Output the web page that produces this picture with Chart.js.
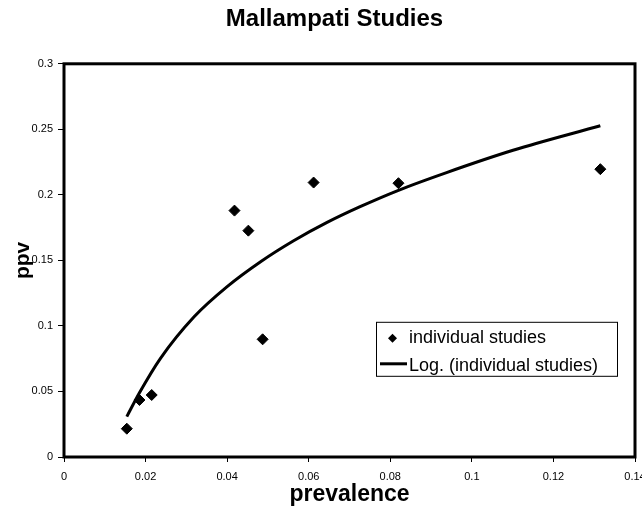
<!DOCTYPE html>
<html>
<head>
<meta charset="utf-8">
<script src="https://cdn.jsdelivr.net/npm/chart.js@4/dist/chart.umd.min.js"></script>
<style>
  html, body { margin: 0; padding: 0; background: #fff; }
  #wrap { width: 642px; height: 506px; }
</style>
</head>
<body>
<div id="wrap"><canvas id="chart" width="642" height="506"></canvas></div>
<script>
// Data
const studyPrevalence = [0.0154, 0.0185, 0.0215, 0.0418, 0.0452, 0.0487, 0.0612, 0.0820, 0.1315];
const studyPpv = [0.0216, 0.0435, 0.0473, 0.188, 0.1727, 0.0898, 0.2094, 0.2089, 0.2196];

// Logarithmic trendline
const trendPrevalence = [0.0154, 0.0185, 0.0237, 0.0319, 0.0400, 0.0482, 0.0563, 0.0645, 0.0726, 0.0820, 0.0938, 0.1101, 0.1315];
const trendPpv = [0.0308, 0.049, 0.0755, 0.107, 0.130, 0.149, 0.165, 0.179, 0.191, 0.2035, 0.217, 0.234, 0.2527];

const xTicks = [0, 0.02, 0.04, 0.06, 0.08, 0.1, 0.12, 0.14];
const yTicks = [0, 0.05, 0.1, 0.15, 0.2, 0.25, 0.3];

const seriesLabels = ['individual studies', 'Log. (individual studies)'];

const FONT = '"Liberation Sans", Arial, Helvetica, sans-serif';
Chart.defaults.font.family = FONT;
Chart.defaults.color = '#000';

// Frame round the plot area
const framePlugin = {
  id: 'frame',
  afterLayout(chart) {
    // title sits a bit right of the canvas centre in the reference
    if (chart.titleBlock) {
      chart.titleBlock.left = 27;
      chart.titleBlock.right = 642;
    }
  },
  afterDraw(chart) {
    const { ctx, chartArea: a } = chart;
    ctx.save();
    ctx.strokeStyle = '#000';
    ctx.lineWidth = 3;
    ctx.strokeRect(a.left, a.top, a.right - a.left, a.bottom - a.top);
    ctx.restore();
  }
};

// Boxed legend inside the plot, like the Excel one
const boxLegend = {
  id: 'boxLegend',
  afterDraw(chart) {
    const { ctx, chartArea: a } = chart;
    const left = a.left + 312, top = a.top + 258, w = 241, h = 54;
    ctx.save();
    ctx.fillStyle = '#fff';
    ctx.fillRect(left, top, w, h);
    ctx.strokeStyle = '#000';
    ctx.lineWidth = 1;
    ctx.strokeRect(left + 0.5, top + 0.5, w, h);

    ctx.font = '18px ' + FONT;
    ctx.fillStyle = '#000';
    ctx.textBaseline = 'alphabetic';

    // row 1: diamond marker
    const d = 4.5, cx = left + 16.5, cy = top + 16.5;
    ctx.beginPath();
    ctx.moveTo(cx - d, cy);
    ctx.lineTo(cx, cy - d);
    ctx.lineTo(cx + d, cy);
    ctx.lineTo(cx, cy + d);
    ctx.closePath();
    ctx.fill();
    ctx.fillText(chart.data.datasets[0].label, left + 33, top + 21);

    // row 2: line sample
    ctx.beginPath();
    ctx.lineWidth = 3;
    ctx.moveTo(left + 4, top + 42);
    ctx.lineTo(left + 31, top + 42);
    ctx.stroke();
    ctx.fillText(chart.data.datasets[1].label, left + 33, top + 49);
    ctx.restore();
  }
};

new Chart(document.getElementById('chart'), {
  type: 'scatter',
  data: {
    datasets: [
      {
        label: seriesLabels[0],
        data: studyPrevalence.map((x, i) => ({ x: x, y: studyPpv[i] })),
        pointStyle: 'rectRot',
        pointRadius: 5.5,
        pointBackgroundColor: '#000',
        pointBorderColor: '#000',
        pointBorderWidth: 1,
        showLine: false,
        order: 1
      },
      {
        label: seriesLabels[1],
        data: trendPrevalence.map((x, i) => ({ x: x, y: trendPpv[i] })),
        showLine: true,
        borderColor: '#000',
        borderWidth: 3,
        pointRadius: 0,
        cubicInterpolationMode: 'monotone',
        fill: false,
        order: 2
      }
    ]
  },
  options: {
    responsive: false,
    animation: false,
    events: [],
    layout: { padding: { left: 0, right: 7, top: 0, bottom: 0 } },
    plugins: {
      legend: { display: false },
      tooltip: { enabled: false },
      title: {
        display: true,
        text: 'Mallampati Studies',
        color: '#000',
        font: { size: 24, weight: 'bold', family: FONT },
        padding: { top: 5, bottom: 30 }
      }
    },
    scales: {
      x: {
        type: 'linear',
        min: 0,
        max: 0.14,
        afterBuildTicks: scale => { scale.ticks = xTicks.map(v => ({ value: v })); },
        afterFit: scale => { scale.height = 49; scale.paddingLeft = 0; scale.paddingRight = 0; },
        border: { display: false },
        grid: { drawOnChartArea: false, drawTicks: true, tickLength: 5, color: '#000', lineWidth: 1 },
        ticks: {
          color: '#000',
          font: { size: 11 },
          padding: 8,
          maxRotation: 0,
          autoSkip: false,
          callback: v => String(v)
        },
        title: {
          display: true,
          text: 'prevalence',
          color: '#000',
          font: { size: 23, weight: 'bold', lineHeight: 1 },
          padding: { top: 0, bottom: 0 }
        }
      },
      y: {
        type: 'linear',
        min: 0,
        max: 0.3,
        afterBuildTicks: scale => { scale.ticks = yTicks.map(v => ({ value: v })); },
        afterFit: scale => { scale.width = 64; scale.paddingTop = 0; scale.paddingBottom = 0; },
        border: { display: false },
        grid: { drawOnChartArea: false, drawTicks: true, tickLength: 6, color: '#000', lineWidth: 1 },
        ticks: {
          color: '#000',
          font: { size: 11 },
          padding: 5,
          autoSkip: false,
          callback: v => String(v)
        },
        title: {
          display: true,
          text: 'ppv',
          color: '#000',
          font: { size: 21, weight: 'bold', lineHeight: 1 },
          padding: { top: 13, bottom: 0 }
        }
      }
    }
  },
  plugins: [framePlugin, boxLegend]
});
</script>
</body>
</html>
